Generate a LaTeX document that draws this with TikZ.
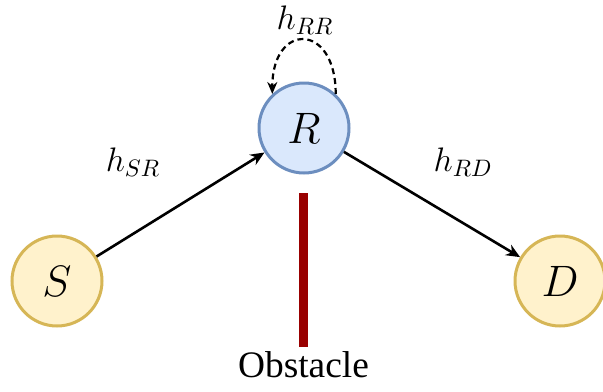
\RequirePackage{fix-cm}
\documentclass[tikz,border=0pt]{standalone}
\usepackage{fontspec}
\setmainfont{Liberation Serif}
\usepackage{tikz}
\usetikzlibrary{positioning, arrows.meta}
\usepackage{xcolor}
\definecolor{srcfill}{HTML}{FFF2CC}
\definecolor{srcdraw}{HTML}{D6B656}
\definecolor{relfill}{HTML}{DAE8FC}
\definecolor{reldraw}{HTML}{6C8EBF}
\definecolor{obsred}{HTML}{990000}

\begin{document}
\begin{tikzpicture}[
    x=0.5pt, y=-0.5pt,
    endnode/.style={circle, draw=srcdraw, fill=srcfill, line width=1.5pt, inner sep=0pt,
                    minimum size=45pt, font=\fontsize{22}{26}\selectfont},
    relay/.style={circle, draw=reldraw, fill=relfill, line width=1.5pt, inner sep=0pt,
                  minimum size=45pt, font=\fontsize{22}{26}\selectfont},
    chan/.style={font=\fontsize{17}{20}\selectfont},
    wall/.style={fill=obsred, draw=none, minimum width=4.5pt, minimum height=77pt, inner sep=0pt},
    arr/.style={-{Stealth[length=7pt, width=6pt]}, line width=1.3pt},
    loop/.style={-{Stealth[length=6pt, width=5pt]}, line width=1.1pt, dash pattern=on 3pt off 2pt},
]
\useasboundingbox (0,0) rectangle (603,391);

% nodes
\node[relay]   (R) at (304,128) {$R$};
\node[endnode] (S) at (57,281)  {$S$};
\node[endnode] (D) at (560,281) {$D$};

% obstacle
\node[wall] (wall) at (303.5,270) {};
\node[below=1pt of wall, font=\fontsize{18.7}{22}\selectfont, inner sep=1pt] (obslabel) {Obstacle};

% links
\draw[arr] (S) -- (R);
\draw[arr] (R) -- (D);
\draw[loop] (R.47) .. controls +(0,-72) and +(0,-72) .. (R.133);

% channel labels
\node[chan] (hsr) at (133,162) {$h_{SR}$};
\node[chan] (hrd) at (463,162) {$h_{RD}$};
\node[chan] (hrr) at (305,20)  {$h_{RR}$};
\end{tikzpicture}
\end{document}
